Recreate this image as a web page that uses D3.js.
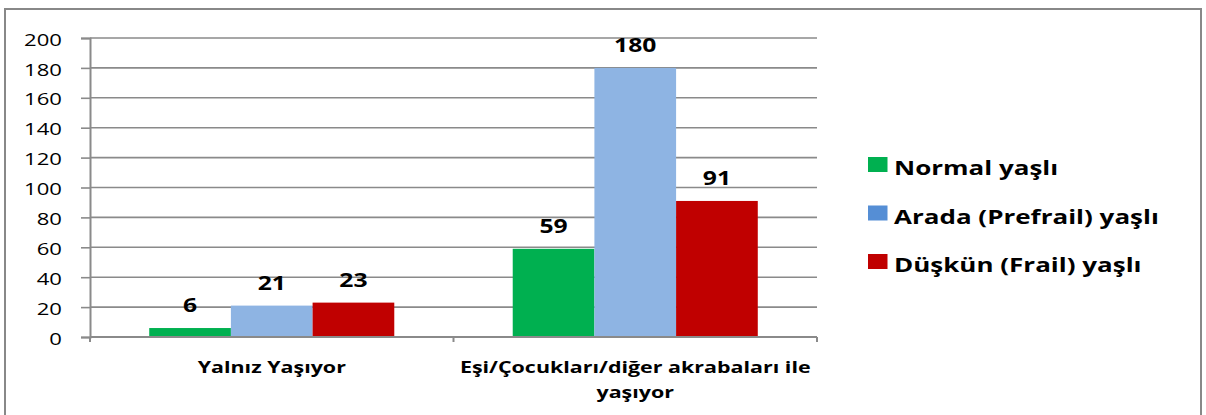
<!DOCTYPE html>
<html>
<head>
<meta charset="utf-8">
<script src="https://cdn.jsdelivr.net/npm/d3@7/dist/d3.min.js"></script>
<style>
  html, body { margin: 0; padding: 0; background: #fff; }
  svg { display: block; }
  text { font-family: "Open Sans", "Noto Sans", sans-serif; fill: #000; }
</style>
</head>
<body>
<svg id="chart" width="1206" height="415"></svg>
<script>
// ---- data ----
const categories = ["Yalnız Yaşıyor", "Eşi/Çocukları/diğer akrabaları ile yaşıyor"];
const seriesNames = ["Normal yaşlı", "Arada (Prefrail) yaşlı", "Düşkün (Frail) yaşlı"];
const normalValues = [6, 59];
const prefrailValues = [21, 180];
const frailValues = [23, 91];
const yTickValues = [0, 20, 40, 60, 80, 100, 120, 140, 160, 180, 200];

const seriesValues = [normalValues, prefrailValues, frailValues];
const barColors = ["#00b050", "#8eb4e3", "#c00000"];
const legendColors = ["#00b050", "#558ed5", "#c00000"];

// ---- layout ----
const W = 1206, H = 415;
const SX = 1.3; // horizontal text stretch of the reference
const plot = { left: 90, right: 817, top: 38, bottom: 337 };

const svg = d3.select("#chart");
svg.append("rect").attr("x", 0).attr("y", 0).attr("width", W).attr("height", H).attr("fill", "#fff");
svg.append("rect").attr("x", 5).attr("y", 9).attr("width", 1196).attr("height", 430)
  .attr("fill", "none").attr("stroke", "#888").attr("stroke-width", 2);

const y = d3.scaleLinear().domain([0, 200]).range([plot.bottom, plot.top]);
const x0 = d3.scaleBand().domain(categories).range([plot.left, plot.right]).paddingInner(0).paddingOuter(0);
const x1 = d3.scaleBand().domain(seriesNames).range([0, x0.bandwidth()]).paddingInner(0).paddingOuter(0.725);

const gridColor = "#8a8a8a";

// y axis with gridlines
const yAxis = svg.append("g").attr("transform", `translate(${plot.left},0)`)
  .call(d3.axisLeft(y).tickValues(yTickValues).tickSize(9).tickPadding(0));
yAxis.select(".domain").attr("stroke", gridColor).attr("stroke-width", 2);
yAxis.selectAll(".tick line").attr("stroke", gridColor).attr("stroke-width", 1.6);
yAxis.selectAll(".tick text")
  .attr("x", null).attr("dy", "0.36em")
  .attr("transform", `translate(-28,1) scale(${SX},1)`)
  .attr("text-anchor", "end")
  .style("font-size", "17px").style("font-family", "'Open Sans', sans-serif").attr("fill", "#111");

svg.append("g").selectAll("line")
  .data(yTickValues.filter(v => v > 0))
  .join("line")
  .attr("x1", plot.left).attr("x2", plot.right)
  .attr("y1", d => y(d)).attr("y2", d => y(d))
  .attr("stroke", gridColor).attr("stroke-width", 1.6);

// bars
const groups = svg.append("g").selectAll("g")
  .data(categories)
  .join("g")
  .attr("transform", d => `translate(${x0(d)},0)`);

groups.selectAll("rect")
  .data((c, ci) => seriesNames.map((s, si) => ({ s, si, v: seriesValues[si][ci] })))
  .join("rect")
  .attr("x", d => x1(d.s))
  .attr("width", x1.bandwidth())
  .attr("y", d => y(d.v))
  .attr("height", d => y(0) - y(d.v))
  .attr("fill", d => barColors[d.si]);

// data labels
groups.selectAll("text.val")
  .data((c, ci) => seriesNames.map((s, si) => ({ s, si, v: seriesValues[si][ci] })))
  .join("text")
  .attr("class", "val")
  .attr("transform", d => `translate(${x1(d.s) + x1.bandwidth() / 2},${y(d.v) - 16}) scale(${SX},1)`)
  .attr("text-anchor", "middle")
  .style("font-size", "19px").style("font-weight", "bold")
  .text(d => d.v);

// x axis line (value 0) and boundary ticks
svg.append("line")
  .attr("x1", plot.left).attr("x2", plot.right)
  .attr("y1", y(0)).attr("y2", y(0))
  .attr("stroke", gridColor).attr("stroke-width", 2);
const boundaries = categories.map(c => x0(c)).concat([x0(categories[categories.length - 1]) + x0.bandwidth()]);
svg.append("g").selectAll("line")
  .data(boundaries)
  .join("line")
  .attr("x1", d => d).attr("x2", d => d)
  .attr("y1", y(0)).attr("y2", y(0) + 5)
  .attr("stroke", gridColor).attr("stroke-width", 2);

// category labels (wrapped)
const catLabels = svg.append("g").selectAll("text")
  .data(categories)
  .join("text")
  .attr("transform", d => `translate(${x0(d) + x0.bandwidth() / 2},373) scale(${SX},1)`)
  .attr("text-anchor", "middle")
  .style("font-size", "16.5px").style("font-weight", "bold")
  .attr("fill", "#111");

catLabels.each(function(d) {
  const t = d3.select(this);
  const words = d.split(" ");
  const maxW = x0.bandwidth() * 1.05 / SX;
  let line = [];
  let lineNo = 0;
  let tspan = t.append("tspan").attr("x", 0).attr("dy", 0);
  words.forEach(w => {
    line.push(w);
    tspan.text(line.join(" "));
    if (tspan.node().getComputedTextLength() > maxW && line.length > 1) {
      line.pop();
      tspan.text(line.join(" "));
      line = [w];
      lineNo++;
      tspan = t.append("tspan").attr("x", 0).attr("dy", "25px").text(w);
    }
  });
});

// legend
const legend = svg.append("g").attr("transform", "translate(868,157)");
const items = legend.selectAll("g")
  .data(seriesNames)
  .join("g")
  .attr("transform", (d, i) => `translate(0,${i * 48.5})`);
items.append("rect")
  .attr("x", 0).attr("y", 0)
  .attr("width", 15 * SX).attr("height", 15)
  .attr("fill", (d, i) => legendColors[i]);
items.append("text")
  .attr("transform", `translate(26,18) scale(${SX},1)`)
  .style("font-size", "20px").style("font-weight", "bold")
  .text(d => d);
</script>
</body>
</html>
